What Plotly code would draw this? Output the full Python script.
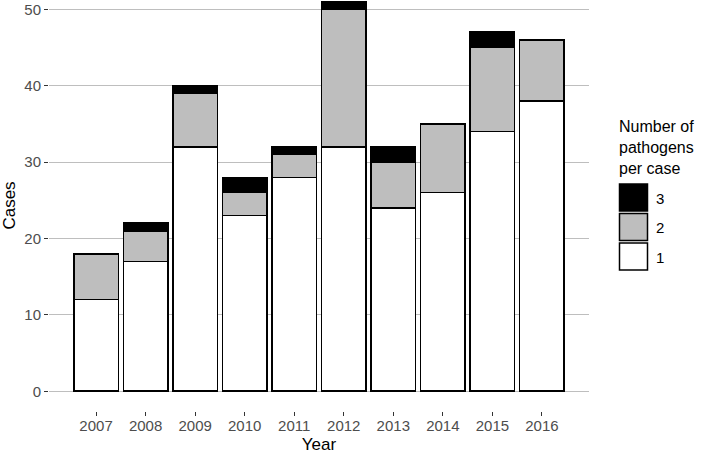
import plotly.graph_objects as go

years = ["2007", "2008", "2009", "2010", "2011", "2012", "2013", "2014", "2015", "2016"]
one_pathogen = [12, 17, 32, 23, 28, 32, 24, 26, 34, 38]
two_pathogens = [6, 4, 7, 3, 3, 18, 6, 9, 11, 8]
three_pathogens = [0, 1, 1, 2, 1, 1, 2, 0, 2, 0]

legend_labels = ["3", "2", "1"]
fill_colors = {"1": "#ffffff", "2": "#bebebe", "3": "#000000"}

FONT = "Liberation Sans, Arial, sans-serif"

# plot-area geometry in pixels (used only to place the hand-drawn legend)
W, H = 709, 455
L, R, T, B = 49, 120, 0, 44
PW, PH = W - L - R, H - T - B


def px_x(x):
    return (x - L) / PW


def px_y(y):
    return (H - B - y) / PH


fig = go.Figure()
for name, vals in [("1", one_pathogen), ("2", two_pathogens), ("3", three_pathogens)]:
    fig.add_trace(go.Bar(
        x=years,
        y=[v if v else None for v in vals],
        name=name,
        width=0.9,
        marker=dict(color=fill_colors[name], line=dict(color="black", width=1.6)),
        showlegend=False,
    ))

# legend drawn by hand, ggplot style (big keys)
key_tops = [184, 213.5, 243]
for lab, top in zip(legend_labels, key_tops):
    fig.add_shape(type="rect", xref="paper", yref="paper",
                  x0=px_x(619.5), x1=px_x(647.5), y0=px_y(top + 27), y1=px_y(top),
                  fillcolor=fill_colors[lab], line=dict(color="black", width=1.5))
    fig.add_annotation(text=lab, xref="paper", yref="paper", x=px_x(654), y=px_y(top + 14),
                       xanchor="left", yanchor="middle", showarrow=False,
                       font=dict(family=FONT, size=15, color="black"))
fig.add_annotation(text="Number of<br>pathogens<br>per case", xref="paper", yref="paper",
                   x=px_x(617), y=px_y(116), xanchor="left", yanchor="top", align="left",
                   showarrow=False, font=dict(family=FONT, size=16, color="black"))

fig.update_layout(
    width=W, height=H,
    barmode="stack",
    margin=dict(l=L, r=R, t=T, b=B),
    plot_bgcolor="white", paper_bgcolor="white",
    font=dict(family=FONT, color="#4d4d4d", size=14),
    showlegend=False,
)
fig.update_xaxes(
    range=[-0.95, 9.95], showgrid=False, zeroline=False, showline=False,
    ticks="outside", ticklen=4, tickcolor="#333333", tickwidth=1.3,
    tickfont=dict(size=15, color="#4d4d4d"), ticklabelstandoff=-3,
    title=dict(text="Year", font=dict(size=17, color="black"), standoff=5),
)
fig.update_yaxes(
    range=[-2.58, 51.22], tickvals=[0, 10, 20, 30, 40, 50],
    showgrid=True, gridcolor="#bebebe", gridwidth=1, zeroline=False, showline=False,
    ticks="outside", ticklen=4, tickcolor="#333333", tickwidth=1.3,
    tickfont=dict(size=15, color="#4d4d4d"),
    title=dict(text="Cases", font=dict(size=17, color="black"), standoff=6),
)

fig.write_html("out.html", config={"displayModeBar": False},
               post_script="document.body.style.margin='0';")
